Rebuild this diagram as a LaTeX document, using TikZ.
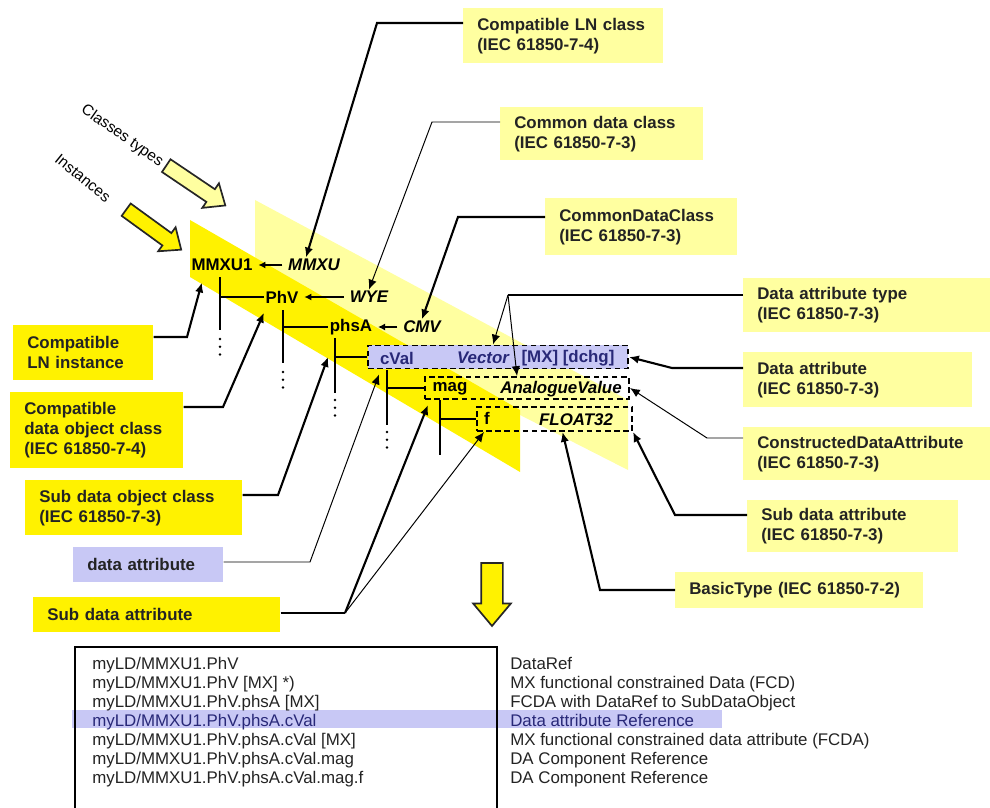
\documentclass[tikz,border=0pt]{standalone}
\usepackage{fontspec}
\setmainfont{Liberation Sans}
\usetikzlibrary{arrows.meta,calc,shapes.arrows}

\definecolor{palefill}{RGB}{255,255,160}
\definecolor{lavfill}{RGB}{200,200,245}
\definecolor{txtblue}{RGB}{40,40,120}
\definecolor{txtgray}{RGB}{35,35,35}

\begin{document}
\begin{tikzpicture}[
    x=0.025cm, y=-0.025cm,
    font=\fontsize{12}{14.2}\selectfont,
    lbl/.style={anchor=north west, align=left, inner xsep=0.35cm, inner ysep=0pt,
      font=\fontsize{12}{14.2}\selectfont\bfseries, text=txtgray},
    yel/.style={lbl, fill=yellow},
    pal/.style={lbl, fill=palefill},
    lav/.style={lbl, fill=lavfill},
    inst/.style={font=\fontsize{12}{14}\selectfont\bfseries, inner sep=1pt},
    cls/.style={inst, font=\fontsize{12}{14}\selectfont\bfseries\itshape},
    dbox/.style={draw, line width=1.4pt, dash pattern=on 4pt off 2.5pt, inner sep=0pt},
    tree/.style={line width=2pt},
    dots/.style={line width=2pt, line cap=round, dash pattern=on 0pt off 5.5pt},
    iarr/.style={line width=1.6pt, -{Latex[length=5pt,width=5pt]}, shorten >=3pt, shorten <=3pt},
    thk/.style={line width=1.5pt, -{Latex[length=7pt,width=6pt]}},
    thn/.style={line width=0.7pt, -{Latex[length=7pt,width=6pt]}},
    blk/.style={single arrow, draw=black!85, line width=1.2pt, inner sep=0.17cm,
      single arrow head extend=0.18cm, single arrow tip angle=80},
    tbl/.style={anchor=base west, align=left, inner sep=0pt, text=txtgray,
      font=\fontsize{12}{13.5}\selectfont}
  ]
  \useasboundingbox (0,0) rectangle (990,807);

  % bands: classes (pale) behind instances (yellow)
  \fill[palefill] (255,200) -- (628,400) -- (628,470) -- (255,280) -- cycle;
  \fill[yellow] (190,220) -- (520,410) -- (520,472) -- (190,277) -- cycle;

  \node[blk, fill=palefill, rotate=-34, minimum height=1.78cm] (clsarr) at (192,183) {};
  \node[blk, fill=yellow, rotate=-36, minimum height=1.7cm] (instarr) at (150,227) {};
  \node[rotate=-35, font=\fontsize{11}{13}\selectfont] (clstxt) at (122,136) {Classes types};
  \node[rotate=-39, font=\fontsize{11}{13}\selectfont] (insttxt) at (83,178) {Instances};

  % labels
  \node[pal, text width=4.3cm, minimum height=1.375cm] (clnclass) at (463,8) {Compatible LN class\\(IEC 61850-7-4)};
  \node[pal, text width=4.375cm, minimum height=1.325cm] (cdclass) at (500,107) {Common data class\\(IEC 61850-7-3)};
  \node[pal, text width=4.1cm, minimum height=1.425cm] (cdc) at (545,198) {CommonDataClass\\(IEC 61850-7-3)};
  \node[pal, text width=5.475cm, minimum height=1.35cm] (datype) at (743,278) {Data attribute type\\(IEC 61850-7-3)};
  \node[pal, text width=5.025cm, minimum height=1.375cm] (da) at (743,352) {Data attribute\\(IEC 61850-7-3)};
  \node[pal, text width=5.475cm, minimum height=1.325cm] (cda) at (743,427) {ConstructedDataAttribute\\(IEC 61850-7-3)};
  \node[pal, text width=4.575cm, minimum height=1.3cm] (subda) at (747,500) {Sub data attribute\\(IEC 61850-7-3)};
  \node[pal, text width=5.5cm, minimum height=0.9cm] (basic) at (675,572) {BasicType (IEC 61850-7-2)};

  \node[yel, text width=2.8cm, minimum height=1.375cm] (lninst) at (13,325) {Compatible\\LN instance};
  \node[yel, text width=3.625cm, minimum height=1.9cm] (doclass) at (10,392) {Compatible\\data object class\\(IEC 61850-7-4)};
  \node[yel, text width=4.725cm, minimum height=1.375cm] (subdo) at (25,480) {Sub data object class\\(IEC 61850-7-3)};
  \node[lav, text width=3.05cm, minimum height=0.875cm] (dattr) at (73,547) {data attribute};
  \node[yel, text width=5.475cm, minimum height=0.875cm] (subdal) at (33,597) {Sub data attribute};

  % instance tree
  \node[inst] (mmxu1) at (222,265) {MMXU1};
  \node[cls] (mmxu) at (314,265) {MMXU};
  \node[inst] (phv) at (282,297) {PhV};
  \node[cls] (wye) at (369,297) {WYE};
  \node[inst] (phsa) at (351,327) {phsA};
  \node[cls] (cmv) at (422,327) {CMV};
  \node[dbox, fill=lavfill, minimum width=6.5cm, minimum height=0.575cm] (cvalbox) at (498,357) {};
  \node[inst, text=txtblue] (cval) at (397,358) {cVal};
  \node[cls, text=txtblue] (vector) at (483,358) {Vector};
  \node[inst, text=txtblue] (mxdchg) at (568,358) {[MX] [dchg]};
  \node[dbox, minimum width=5.1cm, minimum height=0.55cm] (magbox) at (527,388) {};
  \node[inst] (mag) at (450,389) {mag};
  \node[cls] (anval) at (561,389) {AnalogueValue};
  \node[dbox, minimum width=3.875cm, minimum height=0.6cm] (fbox) at (554.5,419) {};
  \node[inst] (f) at (487,418) {f};
  \node[cls] (float) at (576,420) {FLOAT32};

  \draw[iarr] (mmxu) -- (mmxu1);
  \draw[iarr] (wye) -- (phv);
  \draw[iarr] (cmv) -- (phsa);

  \coordinate (t1) at (220,277);
  \coordinate (t2) at (283,310);
  \coordinate (t3) at (335,338);
  \coordinate (t4) at (387,370);
  \coordinate (t5) at (440,400);
  \draw[tree] (t1) -- ++(0,53);
  \draw[tree] (t1 |- phv) -- (phv.west);
  \draw[dots] (t1) ++(0,62) -- ++(0,22);
  \draw[tree] (t2) -- ++(0,53);
  \draw[tree] (t2 |- phsa) -- (phsa.west);
  \draw[dots] (t2) ++(0,62) -- ++(0,22);
  \draw[tree] (t3) -- ++(0,55);
  \draw[tree] (t3 |- cvalbox.west) -- (cvalbox.west);
  \draw[dots] (t3) ++(0,62) -- ++(0,22);
  \draw[tree] (t4) -- ++(0,55);
  \draw[tree] (t4 |- magbox.west) -- (magbox.west);
  \draw[dots] (t4) ++(0,62) -- ++(0,22);
  \draw[tree] (t5) -- ++(0,55);
  \draw[tree] (t5 |- fbox.west) -- (fbox.west);

  % callouts
  \coordinate (bA) at (377,23);
  \coordinate (bB) at (432,122);
  \coordinate (bC) at (458,217);
  \coordinate (bD) at (508,295);
  \coordinate (bE) at (672,368);
  \coordinate (bF) at (707,438);
  \coordinate (bG) at (675,515);
  \coordinate (bH) at (600,590);
  \draw[thk] (clnclass.west |- bA) -- (bA) -- ($(mmxu.north)+(-8,0)$);
  \draw[thn] (cdclass.west |- bB) -- (bB) -- (wye.north);
  \draw[thk] (cdc.west |- bC) -- (bC) -- (cmv.north);
  \draw[line width=1.5pt] (datype.west |- bD) -- (bD);
  \draw[thn] (bD) -- ($(cvalbox.north)+(-5,0)$);
  \draw[thn] (bD) -- ($(magbox.north)+(-10,0)$);
  \draw[thk] (da.west |- bE) -- (bE) -- (cvalbox.east);
  \draw[thn] (cda.west |- bF) -- (bF) -- (magbox.east);
  \draw[thk] (subda.west |- bG) -- (bG) -- (fbox.south east);
  \draw[thk] (basic.west |- bH) -- (bH) -- ($(fbox.south)+(8,0)$);

  \coordinate (bI) at (187,337);
  \coordinate (bJ) at (223,407);
  \coordinate (bK) at (278,495);
  \coordinate (bL) at (310,562);
  \coordinate (bM) at (345,613);
  \draw[thk] (lninst.east |- bI) -- (bI) -- ($(mmxu1.south west)+(12,10)$);
  \draw[thk] (doclass.east |- bJ) -- (bJ) -- ($(phv.south west)+(0,8)$);
  \draw[thk] (subdo.east |- bK) -- (bK) -- ($(t3 |- cvalbox.west)+(-7,0)$);
  \draw[thn] (dattr.east |- bL) -- (bL) -- ($(cvalbox.south west)+(12,5)$);
  \draw[line width=1.5pt] (subdal.east |- bM) -- (bM);
  \draw[thk] (bM) -- ($(magbox.south west)+(4,5)$);
  \draw[thn] (bM) -- ($(fbox.south west)+(8,0)$);

  \node[blk, fill=yellow, rotate=-90, minimum height=1.575cm, inner sep=0.25cm,
    single arrow head extend=0.2cm] (down) at (492,588) {};

  % reference table
  \fill[lavfill] (72,710) rectangle (722,728);
  \draw[line width=2pt] (75,815) -- (75,647) -- (497,647) -- (497,815);
  \node[tbl] (refs) at (92,783)
    {myLD/MMXU1.PhV\\
     myLD/MMXU1.PhV [MX] *)\\
     myLD/MMXU1.PhV.phsA [MX]\\
     \textcolor{txtblue}{myLD/MMXU1.PhV.phsA.cVal}\\
     myLD/MMXU1.PhV.phsA.cVal [MX]\\
     myLD/MMXU1.PhV.phsA.cVal.mag\\
     myLD/MMXU1.PhV.phsA.cVal.mag.f};
  \node[tbl] (kinds) at (510,783)
    {DataRef\\
     MX functional constrained Data (FCD)\\
     FCDA with DataRef to SubDataObject\\
     \textcolor{txtblue}{Data attribute Reference}\\
     MX functional constrained data attribute (FCDA)\\
     DA Component Reference\\
     DA Component Reference};
\end{tikzpicture}
\end{document}
